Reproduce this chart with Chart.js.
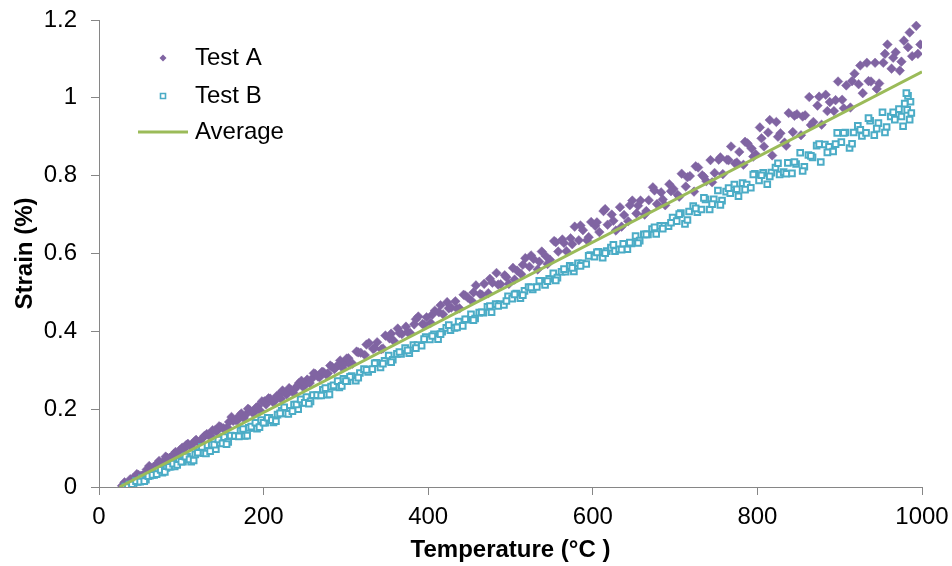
<!DOCTYPE html>
<html>
<head>
<meta charset="utf-8">
<script src="https://cdn.jsdelivr.net/npm/chart.js@4/dist/chart.umd.min.js"></script>
<style>
  html, body { margin: 0; padding: 0; background: #fff; }
  #wrap { width: 952px; height: 566px; }
</style>
</head>
<body>
<div id="wrap"><canvas id="c" width="952" height="566"></canvas></div>
<script>
// ---- Data ----
const seriesNames = ["Test A", "Test B", "Average"];
const xTicks = [0, 200, 400, 600, 800, 1000];
const yTicks = [0, 0.2, 0.4, 0.6, 0.8, 1, 1.2];

const testA_T = [28,33,38,43,48,53,58,63,68,73,78,83,88,93,98,103,108,113,118,123,128,133,138,143,148,153,158,163,168,173,178,183,188,193,198,203,208,213,218,223,228,233,238,243,248,253,258,263,268,273,278,283,288,293,298,303,308,313,318,323,328,333,338,343,348,353,358,363,368,373,378,383,388,393,398,403,408,413,418,423,428,433,438,443,448,453,458,463,468,473,478,483,488,493,498,503,508,513,518,523,528,533,538,543,548,553,558,563,568,573,578,583,588,593,598,603,608,613,618,623,628,633,638,643,648,653,658,663,668,673,678,683,688,693,698,703,708,713,718,723,728,733,738,743,748,753,758,763,768,773,778,783,788,793,798,803,808,813,818,823,828,833,838,843,848,853,858,863,868,873,878,883,888,893,898,903,908,913,918,923,928,933,938,943,948,953,958,963,968,973,978,983,988,993,998,
  305,315,325,335,345,355,365,375,385,395,405,415,425,435,445,455,465,475,485,495,505,515,525,535,545,555,565,575,585,595,605,615,625,635,645,655,665,675,685,695,705,715,725,735,745,755,765,775,785,795,805,815,825,835,845,855,865,875,885,895,905,915,925,935,945,955,965,975,985,995,
  31,36,41,46,51,56,61,66,71,76,81,86,91,96,101,106,111,116,121,126,131,136,141,146,151,156,161,166,171,176,181,186,191,196,201,206,211,216,221,226,231,236,241,246,251,256,261,266,271,276,281,286,291,296,301];
const testA_strain = [
  0.003,0.006,0.020,0.022,0.031,0.030,0.045,0.048,0.051,0.067,
  0.065,0.075,0.075,0.090,0.094,0.097,0.111,0.110,0.121,0.118,
  0.131,0.133,0.146,0.143,0.154,0.149,0.167,0.170,0.171,0.189,
  0.185,0.198,0.191,0.207,0.220,0.212,0.227,0.220,0.236,0.248,
  0.238,0.250,0.252,0.267,0.257,0.276,0.277,0.290,0.282,0.295,
  0.292,0.309,0.308,0.325,0.316,0.331,0.317,0.348,0.345,0.339,
  0.370,0.355,0.372,0.354,0.389,0.382,0.376,0.407,0.393,0.412,
  0.396,0.418,0.438,0.419,0.436,0.422,0.453,0.449,0.444,0.475,
  0.461,0.477,0.459,0.494,0.487,0.478,0.518,0.496,0.522,0.498,
  0.525,0.550,0.521,0.544,0.522,0.563,0.556,0.547,0.588,0.566,
  0.586,0.559,0.605,0.593,0.584,0.632,0.605,0.636,0.606,0.639,
  0.669,0.634,0.660,0.634,0.681,
  0.671,0.655,0.709,0.674,0.700,0.659,0.719,0.699,0.683,0.736,
  0.703,0.736,0.700,0.737,0.770,0.727,0.757,0.724,0.778,0.766,
  0.751,0.805,0.772,0.799,0.759,0.821,0.801,0.786,0.840,0.807,
  0.841,0.804,0.841,0.875,0.831,0.861,0.828,0.883,0.870,0.855,
  0.924,0.875,0.911,0.852,0.938,0.909,0.885,0.961,0.912,0.958,
  0.904,0.955,1.002,0.938,0.980,0.931,1.008,0.989,0.966,1.042,
  0.995,1.032,0.975,1.062,1.035,1.012,1.090,1.042,1.090,1.037,
  1.090,1.137,1.075,1.117,1.070,1.147,1.130,1.107,1.185,1.137,
  0.315,0.346,0.366,0.357,0.356,0.394,0.396,0.398,0.431,0.417,
  0.443,0.467,0.459,0.458,0.492,0.500,0.494,0.535,0.520,0.539,
  0.533,0.571,0.595,0.579,0.573,0.629,0.627,0.624,0.672,0.642,
  0.680,0.714,0.684,0.669,0.724,0.723,0.709,0.762,0.739,0.760,
  0.746,0.796,0.824,0.797,0.783,0.847,0.840,0.834,0.887,0.849,
  0.896,0.943,0.900,0.877,0.954,0.952,0.930,1.003,0.966,0.994,
  0.973,1.043,1.083,1.043,1.023,1.113,1.103,1.093,1.168,1.113,
  0.012,0.006,0.022,0.033,0.029,0.033,0.054,0.051,0.061,0.060,
  0.078,0.075,0.085,0.082,0.101,0.108,0.105,0.117,0.114,0.126,
  0.136,0.131,0.146,0.156,0.151,0.153,0.180,0.172,0.184,0.177,
  0.201,0.192,0.204,0.196,0.220,0.228,0.219,0.234,0.227,0.242,
  0.254,0.242,0.260,0.273,0.264,0.267,0.292,0.284,0.296,0.289,
  0.312,0.303,0.314,0.306,0.330];

const testB_T = [32,37,42,47,52,57,62,67,72,77,82,87,92,97,102,107,112,117,122,127,132,137,142,147,152,157,162,167,172,177,182,187,192,197,202,207,212,217,222,227,232,237,242,247,252,257,262,267,272,277,282,287,292,297,302,307,312,317,322,327,332,337,342,347,352,357,362,367,372,377,382,387,392,397,402,407,412,417,422,427,432,437,442,447,452,457,462,467,472,477,482,487,492,497,502,507,512,517,522,527,532,537,542,547,552,557,562,567,572,577,582,587,592,597,602,607,612,617,622,627,632,637,642,647,652,657,662,667,672,677,682,687,692,697,702,707,712,717,722,727,732,737,742,747,752,757,762,767,772,777,782,787,792,797,802,807,812,817,822,827,832,837,842,847,852,857,862,867,872,877,882,887,892,897,902,907,912,917,922,927,932,937,942,947,952,957,962,967,972,977,982,987,
  305,315,325,335,345,355,365,375,385,395,405,415,425,435,445,455,465,475,485,495,505,515,525,535,545,555,565,575,585,595,605,615,625,635,645,655,665,675,685,695,705,715,725,735,745,755,765,775,785,795,805,815,825,835,845,855,865,875,885,895,905,915,925,935,945,955,965,975,985,983,986,979,981,
  35,40,45,50,55,60,65,70,75,80,85,90,95,100,105,110,115,120,125,130,135,140,145,150,155,160,165,170,175,180,185,190,195,200,205,210,215,220,225,230,235,240,245,250,255,260,265,270,275,280,285,290,295,300];
const testB_strain = [
  0.001,0.006,0.002,0.013,0.022,0.019,0.029,0.031,0.041,0.037,
  0.049,0.052,0.053,0.067,0.065,0.078,0.065,0.084,0.094,0.087,
  0.093,0.109,0.097,0.113,0.128,0.116,0.131,0.131,0.145,0.131,
  0.152,0.152,0.150,0.172,0.165,0.178,0.166,0.186,0.196,0.189,
  0.196,0.212,0.200,0.217,0.231,0.220,0.235,0.235,0.250,0.237,
  0.258,0.258,0.256,0.278,0.272,0.285,0.273,0.293,0.303,0.296,
  0.303,0.319,0.307,0.324,0.338,0.327,0.342,0.342,0.357,0.344,
  0.365,0.365,0.363,0.385,0.379,0.392,0.380,0.399,0.409,0.403,
  0.409,0.425,0.414,0.430,0.444,0.433,0.448,0.448,0.463,0.449,
  0.470,0.470,0.468,0.490,0.484,0.497,0.485,0.504,0.514,0.508,
  0.514,0.530,0.519,0.535,0.549,0.538,0.553,0.553,0.568,0.554,
  0.575,0.575,0.573,0.596,
  0.592,0.604,0.589,0.606,0.615,0.606,0.611,0.625,0.611,0.626,
  0.645,0.633,0.649,0.649,0.663,0.650,0.671,0.671,0.670,0.692,
  0.683,0.704,0.676,0.708,0.722,0.706,0.713,0.739,0.713,0.739,
  0.762,0.736,0.759,0.755,0.777,0.747,0.781,0.777,0.769,0.805,
  0.788,0.807,0.778,0.808,0.821,0.803,0.809,0.833,0.806,0.830,
  0.859,0.823,0.853,0.847,0.877,0.835,0.880,0.874,0.862,0.910,
  0.886,0.911,0.871,0.911,0.928,0.902,0.910,0.941,0.904,0.935,
  0.963,0.925,0.952,0.944,0.971,0.927,0.969,0.961,
  0.283,0.281,0.301,0.318,0.317,0.321,0.347,0.351,0.357,0.380,
  0.388,0.393,0.416,0.410,0.431,0.429,0.449,0.465,0.465,0.478,
  0.495,0.493,0.513,0.530,0.529,0.531,0.560,0.563,0.568,0.594,
  0.603,0.601,0.622,0.610,0.628,
  0.627,0.649,0.667,0.664,0.679,
  0.701,0.686,0.716,0.743,0.727,0.725,0.768,0.765,0.764,0.803,
  0.801,0.798,0.832,0.805,0.835,0.812,0.851,0.881,0.860,0.881,
  0.910,0.882,0.918,0.948,0.921,0.911,0.963,0.952,0.944,
  1.005,0.990,0.985,1.012,
  0.000,0.007,0.015,0.014,0.015,0.028,0.031,0.033,0.044,0.039,
  0.052,0.060,0.057,0.065,0.078,0.071,0.068,0.088,0.103,0.086,
  0.092,0.109,0.122,0.112,0.110,0.132,0.131,0.130,0.149,0.132,
  0.155,0.165,0.154,0.165,0.178,0.172,0.169,0.189,0.205,0.188,
  0.195,0.212,0.225,0.216,0.214,0.236,0.236,0.235,0.254,0.238,
  0.261,0.272,0.260,0.272];

const avgT = [25, 1000];
const avgStrain = [0, 1.067];

// ---- Styles ----
const purple = '#8064A2';
const cyan = '#4BACC6';
const green = '#9BBB59';
const axisGrey = '#868686';
const FONT = '"Liberation Sans", Arial, sans-serif';

function pts(xs, ys) { return xs.map((x, i) => ({ x: x, y: ys[i] })); }

const legendPlugin = {
  id: 'insideLegend',
  afterDatasetsDraw(chart) {
    const ctx = chart.ctx;
    const ys = [58, 96, 132];
    const mx = 163;
    ctx.save();
    ctx.fillStyle = purple;
    ctx.beginPath();
    ctx.moveTo(mx - 3.5, ys[0]); ctx.lineTo(mx, ys[0] - 3.5); ctx.lineTo(mx + 3.5, ys[0]); ctx.lineTo(mx, ys[0] + 3.5); ctx.closePath();
    ctx.fill();
    ctx.strokeStyle = cyan; ctx.lineWidth = 1.6; ctx.fillStyle = '#fff';
    ctx.beginPath(); ctx.rect(mx - 2.5, ys[1] - 2.5, 5, 5); ctx.fill(); ctx.stroke();
    ctx.strokeStyle = green; ctx.lineWidth = 3;
    ctx.beginPath(); ctx.moveTo(138, ys[2]); ctx.lineTo(188, ys[2]); ctx.stroke();
    ctx.font = '24px ' + FONT;
    ctx.fillStyle = '#000';
    ctx.textBaseline = 'middle';
    ctx.textAlign = 'left';
    seriesNames.forEach((t, i) => ctx.fillText(t, 195, ys[i]));
    ctx.restore();
  }
};

const chart = new Chart(document.getElementById('c'), {
  type: 'scatter',
  data: {
    datasets: [
      {
        label: seriesNames[0],
        data: pts(testA_T, testA_strain),
        pointStyle: 'rectRot',
        pointRadius: 4.8,
        backgroundColor: purple,
        borderColor: purple,
        borderWidth: 0.5,
        order: 2
      },
      {
        label: seriesNames[1],
        data: pts(testB_T, testB_strain),
        pointStyle: 'rect',
        pointRadius: 4,
        backgroundColor: '#ffffff',
        borderColor: cyan,
        borderWidth: 2,
        order: 1
      },
      {
        label: seriesNames[2],
        type: 'line',
        data: pts(avgT, avgStrain),
        showLine: true,
        borderColor: green,
        borderWidth: 3,
        pointRadius: 0,
        fill: false,
        tension: 0,
        order: 0
      }
    ]
  },
  options: {
    responsive: false,
    animation: false,
    devicePixelRatio: 1,
    layout: { padding: { top: 20, right: 30, left: 0, bottom: 0 } },
    plugins: { legend: { display: false }, tooltip: { enabled: false } },
    scales: {
      x: {
        type: 'linear',
        min: 0, max: 1000,
        afterBuildTicks(scale) { scale.ticks = xTicks.map(v => ({ value: v })); },
        afterFit(scale) { scale.height = 79; scale.paddingLeft = 0; scale.paddingRight = 0; },
        ticks: { font: { family: FONT, size: 24 }, color: '#000', padding: 8, maxRotation: 0, callback: v => String(v) },
        grid: { display: true, drawOnChartArea: false, drawTicks: true, tickLength: 8, color: axisGrey },
        border: { display: true, color: axisGrey, width: 1 },
        title: { display: true, text: 'Temperature (°C )', font: { family: FONT, size: 24, weight: 'bold' }, color: '#000', padding: { top: 0, bottom: 1 } }
      },
      y: {
        type: 'linear',
        min: 0, max: 1.2,
        afterBuildTicks(scale) { scale.ticks = yTicks.map(v => ({ value: v })); },
        afterFit(scale) { scale.width = 99; scale.paddingTop = 0; scale.paddingBottom = 0; },
        ticks: { font: { family: FONT, size: 24 }, color: '#000', padding: 14, callback: v => String(Number(v.toFixed(1))) },
        grid: { display: true, drawOnChartArea: false, drawTicks: true, tickLength: 8, color: axisGrey },
        border: { display: true, color: axisGrey, width: 1 },
        title: { display: true, text: 'Strain (%)', font: { family: FONT, size: 24, weight: 'bold' }, color: '#000', padding: { top: 11, bottom: 0 } }
      }
    }
  },
  plugins: [legendPlugin]
});
</script>
</body>
</html>
